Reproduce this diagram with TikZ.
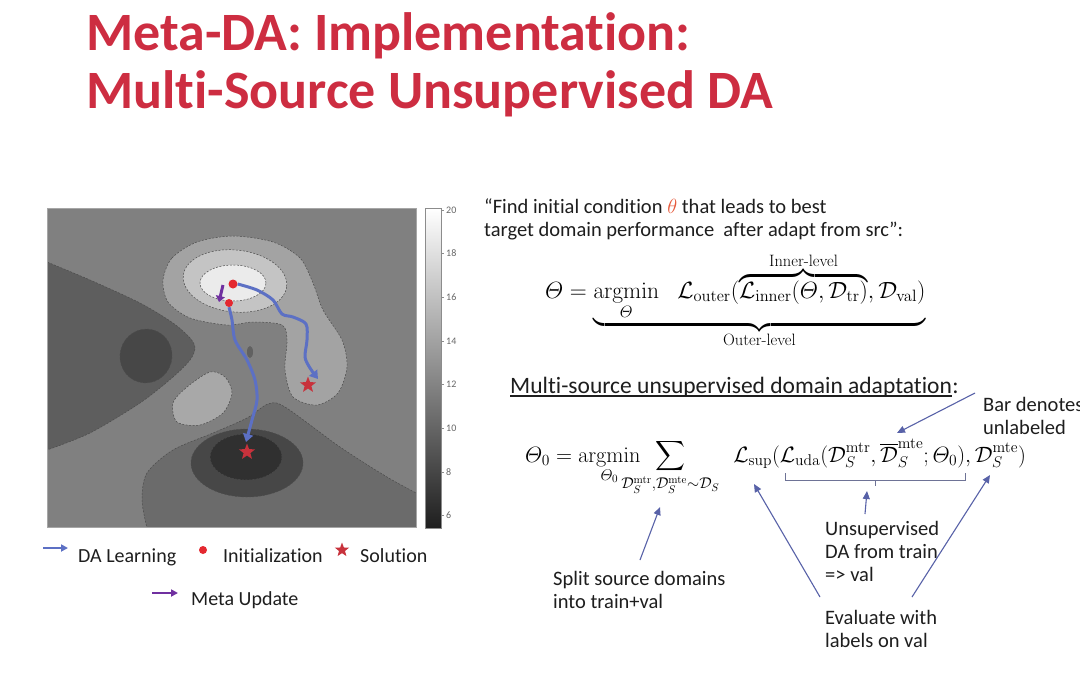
\RequirePackage{fix-cm}
\documentclass[tikz,border=0pt]{standalone}
\usepackage{amsmath}
\usepackage[no-math]{fontspec}
\newfontfamily\cb[Ligatures=NoCommon]{Carlito}
\usetikzlibrary{arrows.meta,shapes.geometric,calc}
\newcommand\zclap[1]{\makebox[0pt]{$\scriptstyle #1$}}
\definecolor{titlered}{RGB}{205,45,65}
\definecolor{dablue}{RGB}{92,112,196}
\definecolor{metapurple}{RGB}{112,48,160}
\definecolor{initred}{RGB}{228,40,48}
\definecolor{solred}{RGB}{200,50,60}
\definecolor{annblue}{RGB}{88,98,168}
\definecolor{brkcol}{RGB}{110,115,150}
\definecolor{txt}{RGB}{30,30,30}
\definecolor{thetared}{RGB}{230,90,60}
\definecolor{gbg}{gray}{0.50}
\definecolor{gleft}{gray}{0.37}
\definecolor{gleftin}{gray}{0.28}
\definecolor{gringa}{gray}{0.64}
\definecolor{gringb}{gray}{0.77}
\definecolor{gringc}{gray}{0.92}
\definecolor{gblob}{gray}{0.66}
\definecolor{gbota}{gray}{0.42}
\definecolor{gbotb}{gray}{0.28}
\definecolor{gbotc}{gray}{0.19}
\begin{document}
\begin{tikzpicture}[x=1pt,y=-1pt,
  titlestyle/.style={font=\cb\bfseries\fontsize{54}{60}\selectfont, text=titlered, inner sep=0, anchor=base west},
  body/.style={font=\cb\fontsize{20.5}{24}\selectfont, text=txt, inner sep=0, anchor=base west},
  legendtext/.style={font=\cb\fontsize{20}{24}\selectfont, text=txt, inner sep=0, anchor=base west},
  cbtext/.style={font=\cb\fontsize{10}{12}\selectfont, text=black!60, inner sep=0, anchor=west},
  eqstyle/.style={inner sep=0, anchor=base west, font=\fontsize{23.5}{28}\selectfont},
  eqsmall/.style={inner sep=0, anchor=base west, font=\fontsize{22.2}{26}\selectfont},
  contour/.style={draw=black!70, line width=0.5pt, dash pattern=on 2pt off 1.5pt},
  ann/.style={draw=annblue, line width=1.1pt, -{Triangle[length=8pt,width=7pt]}},
  brk/.style={draw=brkcol, line width=0.8pt},
  path/.style={draw=dablue, line width=3pt, -{Triangle[length=8pt,width=10pt]}},
  metaarrow/.style={draw=metapurple, line width=3pt, -{Triangle[length=6pt,width=9pt]}},
  initdot/.style={circle, fill=initred, inner sep=0, minimum size=#1},
  solstar/.style={star, star points=5, star point ratio=2.4, fill=solred, inner sep=0, minimum size=#1}
]
\useasboundingbox (0,0) rectangle (1080,675);
\fill[white] (0,0) rectangle (1080,675);

% Title
\node[titlestyle] (t1) at (86,50) {Meta-DA: Implementation:};
\node[titlestyle] (t2) at (86,108) {Multi-Source Unsupervised DA};

% Contour plot
\begin{scope}
\clip (47,208) rectangle (416,527);
\fill[gbg] (47,208) rectangle (416,527);
% left dark region
\filldraw[fill=gleft, contour] (30,262) -- plot[smooth] coordinates {(47,262) (90,280) (140,303) (173,323) (190,338) (195,348) (190,360) (173,377) (140,403) (90,433) (47,450)} -- (30,450) -- cycle;
\filldraw[fill=gleftin, contour, rotate around={-15:(146,356)}] (146,356) ellipse [x radius=26pt, y radius=27pt];
% bottom dark region
\filldraw[fill=gbota, contour] (147,540) -- plot[smooth] coordinates {(147,528) (142,500) (147,473) (173,450) (213,433) (247,418) (268,404) (285,407) (340,447) (387,477) (420,495)} -- (430,540) -- cycle;
\filldraw[fill=gbotb, contour] (247,463) ellipse [x radius=56pt, y radius=34pt];
\filldraw[fill=gbotc, contour] (246,457) ellipse [x radius=36pt, y radius=23pt];
% top light region with right lobe
\filldraw[fill=gringa, contour] plot[smooth cycle] coordinates {(163,280) (172,258) (197,242) (233,236) (273,242) (300,258) (313,283) (323,310) (342,340) (347,367) (338,393) (317,405) (293,397) (285,370) (287,340) (282,325) (253,322) (227,325) (190,318) (168,302)};
\filldraw[fill=gringb, contour, rotate around={-6:(235,281)}] (235,281) ellipse [x radius=52pt, y radius=31pt];
\filldraw[fill=gringc, contour] (233,283) ellipse [x radius=33pt, y radius=18pt];
% small light blob
\filldraw[fill=gblob, contour] plot[smooth cycle] coordinates {(173,403) (187,387) (210,372) (225,377) (232,393) (223,413) (200,425) (177,422)};
% dark speck
\fill[black!62] (250,352) ellipse [x radius=3pt, y radius=6pt];
\end{scope}
\draw[black!35, line width=0.6pt] (47,208) rectangle (416,527);

% colour bar
\shade[top color=white, bottom color=black!88] (425,208) rectangle (441,528);
\draw[black!45, line width=0.6pt] (425,208) rectangle (441,528);
\foreach \v/\y in {20/210,18/253,16/297,14/341,12/384,10/428,8/472,6/515}{
  \draw[black!45, line width=0.5pt] (441,\y) -- (444,\y);
  \node[cbtext] (cb\v) at (446,\y) {\v};
}

% markers and paths
\node[initdot=9pt] (init1) at (233,284) {};
\node[initdot=8pt] (init2) at (229,303) {};
\node[solstar=17pt] (sol1) at (308,385) {};
\node[solstar=17pt] (sol2) at (247,452) {};
\coordinate (metaS) at (223,285);
\coordinate (metaE) at (219,302);
\draw[metaarrow] (metaS) -- (metaE);
\draw[path] plot[smooth] coordinates {(init1.east) (257,290) (273,300) (282,314) (293,317) (306,324) (307,340) (305,357) (310,368) (318,379)};
\draw[path] plot[smooth] coordinates {(init2.south) (232,320) (235,340) (247,360) (255,380) (257,400) (252,420) (246,442)};

% legend
\coordinate (lgAa) at (43,548);
\coordinate (lgAb) at (68,548);
\draw[draw=dablue, line width=2pt, -{Triangle[length=7pt,width=7pt]}] (lgAa) -- (lgAb);
\node[legendtext] (lgA) at (78,562) {DA Learning};
\node[initdot=8pt] (lgdot) at (203,550) {};
\node[legendtext] (lgB) at (223,562) {Initialization};
\node[solstar=15pt] (lgstar) at (342,550) {};
\node[legendtext] (lgC) at (360,562) {Solution};
\coordinate (lgMa) at (152,593);
\coordinate (lgMb) at (178,593);
\draw[draw=metapurple, line width=2pt, -{Triangle[length=7pt,width=7pt]}] (lgMa) -- (lgMb);
\node[legendtext] (lgD) at (191,605) {Meta Update};

% quote
\node[body] (q1) at (484,213) {“Find initial condition {\color{thetared}$\theta$} that leads to best};
\node[body] (q2) at (484,236) {target domain performance\ \ after adapt from src”:};

% equation 1
\node[eqstyle] (eq1) at (545,298)
 {$\displaystyle \varTheta = \underbrace{\operatorname*{argmin}_{\varTheta}\ \ \mathcal{L}_{\mathrm{outer}}(\overbrace{\mathcal{L}_{\mathrm{inner}}(\varTheta,\mathcal{D}_{\mathrm{tr}})}^{\text{Inner-level}},\mathcal{D}_{\mathrm{val}})}_{\text{Outer-level}}$};

% heading
\node[inner sep=0, anchor=base west, font=\cb\fontsize{23.5}{28}\selectfont, text=txt] (ms) at (510,393) {Multi-source unsupervised domain adaptation};
\node[inner sep=0, anchor=base west, font=\cb\fontsize{23.5}{28}\selectfont, text=txt] (mscol) at (ms.base east) {:};
\draw[txt, line width=1.1pt] ($(ms.base west)+(0,3)$) -- ($(ms.base east)+(0,3)$);

% equation 2
\node[eqsmall] (eq2) at (525,462)
 {$\displaystyle \varTheta_0 = \operatorname*{argmin}_{\varTheta_0}\mkern9mu\sum_{\zclap{\mathcal{D}_S^{\mathrm{mtr}},\mathcal{D}_S^{\mathrm{mte}}\sim\mathcal{D}_S}}\qquad\mathcal{L}_{\mathrm{sup}}(\mathcal{L}_{\mathrm{uda}}(\mathcal{D}_S^{\mathrm{mtr}},\overline{\mathcal{D}}_S^{\mathrm{mte}};\varTheta_0),\mathcal{D}_S^{\mathrm{mte}})$};

% bracket under uda term
\coordinate (bkL) at (785,473);
\coordinate (bkR) at (965,473);
\coordinate (bkM) at (875,480);
\draw[brk] (bkL) -- ++(0,7) -| (bkR);
\draw[brk] (bkM) -- ++(0,6);

% annotations
\node[body] (bar1) at (983,411) {Bar denotes};
\node[body] (bar2) at (983,434) {unlabeled};
\node[body] (uns1) at (825,535) {Unsupervised};
\node[body] (uns2) at (825,558) {DA from train};
\node[body] (uns3) at (825,581) {=> val};
\node[body] (spl1) at (553,585) {Split source domains};
\node[body] (spl2) at (553,608) {into train+val};
\node[body] (ev1) at (825,624) {Evaluate with};
\node[body] (ev2) at (825,647) {labels on val};

\coordinate (barT) at (975,393);
\coordinate (barH) at (897,433);
\coordinate (unsT) at (865,514);
\coordinate (unsH) at (867,491);
\coordinate (splT) at (640,560);
\coordinate (splH) at (660,507);
\coordinate (evT1) at (820,597);
\coordinate (evH1) at (754,484);
\coordinate (evT2) at (912,597);
\coordinate (evH2) at (990,475);
\draw[ann] (barT) -- (barH);
\draw[ann] (unsT) -- (unsH);
\draw[ann] (splT) -- (splH);
\draw[ann] (evT1) -- (evH1);
\draw[ann] (evT2) -- (evH2);
\end{tikzpicture}
\end{document}
